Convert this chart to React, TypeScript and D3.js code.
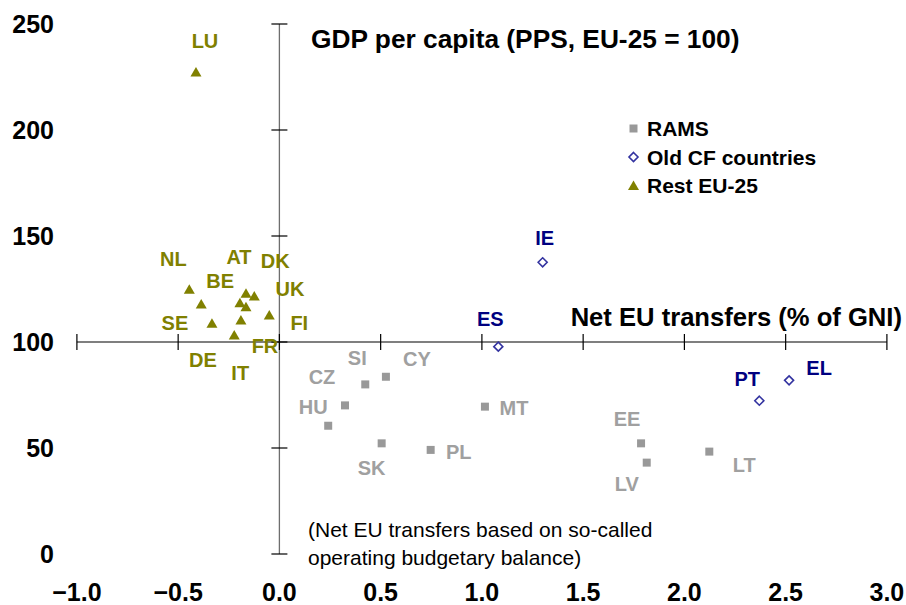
import React from "react";
import * as d3 from "d3";

const ramsNames = ["CY", "SI", "CZ", "HU", "SK", "PL", "MT", "EE", "LV", "LT"];
const ramsX = [0.526, 0.424, 0.324, 0.241, 0.505, 0.747, 1.015, 1.786, 1.814, 2.123];
const ramsY = [83.6, 80.0, 70.1, 60.5, 52.2, 49.1, 69.5, 52.2, 43.1, 48.3];

const oldCfNames = ["IE", "ES", "PT", "EL"];
const oldCfX = [1.3, 1.081, 2.37, 2.517];
const oldCfY = [137.6, 97.8, 72.3, 81.9];

const restNames = ["LU", "NL", "BE", "SE", "AT", "DK", "UK", "FR", "DE", "FI", "IT"];
const restX = [-0.412, -0.445, -0.386, -0.333, -0.165, -0.124, -0.195, -0.165, -0.19, -0.05, -0.223];
const restY = [227.4, 124.9, 117.9, 108.8, 123.0, 121.7, 118.5, 116.6, 110.4, 112.7, 103.3];

const xTicks = [-1.0, -0.5, 0.0, 0.5, 1.0, 1.5, 2.0, 2.5, 3.0];
const yTicks = [0, 50, 100, 150, 200, 250];

const legendLabels = ["RAMS", "Old CF countries", "Rest EU-25"];
const yTitle = "GDP per capita (PPS, EU-25 = 100)";
const xTitle = "Net EU transfers (% of GNI)";
const noteLines = ["(Net EU transfers based on so-called", "operating budgetary balance)"];

// label placement offsets (pixels) relative to each point
const labelOffset: Record<string, [number, number]> = {
  LU: [9, -31], NL: [-16, -30], BE: [19, -23], SE: [-37, -1], AT: [-7, -36],
  DK: [21, -35], UK: [50, -14], FI: [30, 8], FR: [19, 39], DE: [-38, 40], IT: [6, 38],
  CY: [31, -18], SI: [-8, -27], CZ: [-23, -29], HU: [-15, -19], SK: [-10, 24],
  PL: [28, 2], MT: [29, 1], EE: [-14, -25], LV: [-20, 21], LT: [35, 13],
  IE: [2, -24], ES: [-8, -28], PT: [-12, -22], EL: [30, -13],
};

const FONT = "'Liberation Sans', Arial, Helvetica, sans-serif";
const OLIVE = "#808000";
const GRAY = "#a0a0a0";
const GRAY_MARK = "#999999";
const NAVY = "#000080";
const DIAMOND = "#3333a0";

const squarePath = "M-4,-4H4V4H-4Z";
const diamondPath = "M0,-4.5L4.5,0L0,4.5L-4.5,0Z";
const trianglePath = "M0,-5L5.5,4.5L-5.5,4.5Z";

export default function App() {
  const W = 906, H = 605;
  const x = d3.scaleLinear().domain([-1, 3]).range([76.9, 886.9]);
  const y = d3.scaleLinear().domain([0, 250]).range([554, 24]);
  const x0 = x(0);
  const y100 = y(100);

  const rams = ramsNames.map((n, i) => ({ n, x: ramsX[i], y: ramsY[i] }));
  const old = oldCfNames.map((n, i) => ({ n, x: oldCfX[i], y: oldCfY[i] }));
  const rest = restNames.map((n, i) => ({ n, x: restX[i], y: restY[i] }));

  const label = (d: { n: string; x: number; y: number }, color: string) => {
    const o = labelOffset[d.n] || [0, -20];
    return (
      <text key={"l" + d.n} x={x(d.x) + o[0]} y={y(d.y) + o[1]} dy="0.36em" textAnchor="middle"
        fill={color} fontSize={20} fontWeight="bold" fontFamily={FONT}>{d.n}</text>
    );
  };

  return (
    <svg width={W} height={H} style={{ position: "absolute", left: 0, top: 0, background: "#fff" }}>
      <rect width={W} height={H} fill="#fff" />
      {/* vertical axis at x = 0 */}
      <line x1={x0} x2={x0} y1={y(250)} y2={y(0)} stroke="#6e6e6e" strokeWidth={1.3} />
      {yTicks.map((t) => (
        <line key={"yt" + t} x1={x0 - 8} x2={x0 + 8} y1={y(t)} y2={y(t)} stroke="#000" strokeWidth={1.2} />
      ))}
      {/* horizontal axis at y = 100 */}
      <line x1={x(-1)} x2={x(3)} y1={y100} y2={y100} stroke="#000" strokeWidth={1.2} />
      {xTicks.map((t) => (
        <line key={"xt" + t} x1={x(t)} x2={x(t)} y1={y100 - 8} y2={y100 + 8} stroke="#000" strokeWidth={1.2} />
      ))}

      {yTicks.map((t) => (
        <text key={"yl" + t} x={54} y={y(t)} dy="0.36em" textAnchor="end" fontSize={25}
          fontWeight="bold" fontFamily={FONT} fill="#000">{d3.format("d")(t)}</text>
      ))}
      {xTicks.map((t) => (
        <text key={"xl" + t} x={x(t)} y={601} textAnchor="middle" fontSize={25}
          fontWeight="bold" fontFamily={FONT} fill="#000">{d3.format(".1f")(t)}</text>
      ))}

      <text x={311} y={47.5} fontSize={26.3} fontWeight="bold" fontFamily={FONT} fill="#000">{yTitle}</text>
      <text x={902} y={326} textAnchor="end" fontSize={25.6} fontWeight="bold" fontFamily={FONT} fill="#000">{xTitle}</text>

      {noteLines.map((s, i) => (
        <text key={"n" + i} x={308} y={537 + i * 28} fontSize={21} fontFamily={FONT} fill="#000">{s}</text>
      ))}

      {/* markers */}
      {rams.map((d) => (
        <path key={"m" + d.n} d={squarePath} transform={`translate(${x(d.x)},${y(d.y)})`} fill={GRAY_MARK} />
      ))}
      {old.map((d) => (
        <path key={"m" + d.n} d={diamondPath} transform={`translate(${x(d.x)},${y(d.y)})`} fill="#fff" stroke={DIAMOND} strokeWidth={1.6} />
      ))}
      {rest.map((d) => (
        <path key={"m" + d.n} d={trianglePath} transform={`translate(${x(d.x)},${y(d.y)})`} fill={OLIVE} />
      ))}

      {rams.map((d) => label(d, GRAY))}
      {old.map((d) => label(d, NAVY))}
      {rest.map((d) => label(d, OLIVE))}

      {/* legend */}
      {legendLabels.map((s, i) => {
        const ly = 128.5 + i * 28.5;
        const path = i === 0 ? squarePath : i === 1 ? diamondPath : trianglePath;
        const fill = i === 0 ? GRAY_MARK : i === 1 ? "#fff" : OLIVE;
        const stroke = i === 1 ? DIAMOND : "none";
        return (
          <g key={"lg" + i}>
            <path d={path} transform={`translate(633.5,${ly})`} fill={fill} stroke={stroke} strokeWidth={1.6} />
            <text x={647} y={ly} dy="0.36em" fontSize={21} fontWeight="bold" fontFamily={FONT} fill="#000">{s}</text>
          </g>
        );
      })}
    </svg>
  );
}
